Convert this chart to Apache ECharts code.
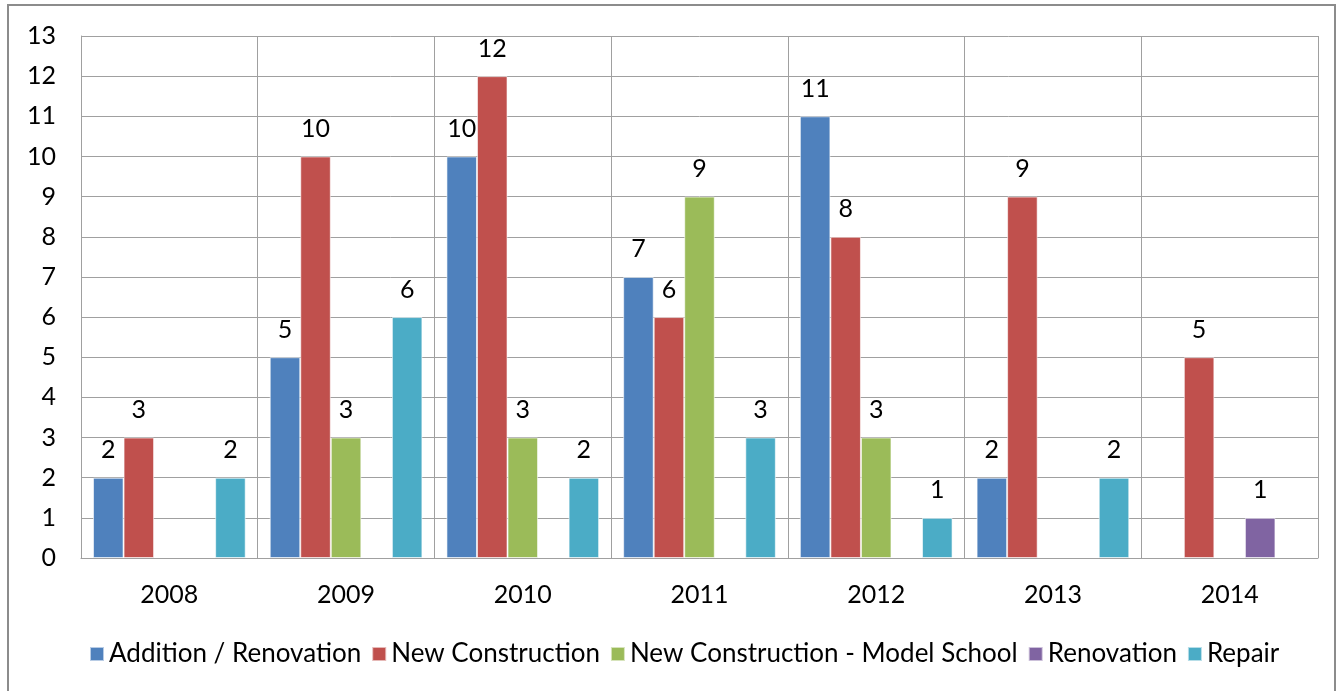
<!DOCTYPE html>
<html>
<head>
<meta charset="utf-8">
<script src="https://cdn.jsdelivr.net/npm/echarts@6/dist/echarts.min.js"></script>
<style>
  html, body { margin: 0; padding: 0; background: #fff; }
  #chart { width: 1338px; height: 691px; }
</style>
</head>
<body>
<div id="chart"></div>
<script>
// data
const years = ["2008", "2009", "2010", "2011", "2012", "2013", "2014"];
const additionRenovation = [2, 5, 10, 7, 11, 2, null];
const newConstruction = [3, 10, 12, 6, 8, 9, 5];
const modelSchool = [null, 3, 3, 9, 3, null, null];
const renovation = [null, null, null, null, null, null, 1];
const repair = [2, 6, 2, 3, 1, 2, null];

const seriesNames = [
  "Addition / Renovation",
  "New Construction",
  "New Construction - Model School",
  "Renovation",
  "Repair"
];
const seriesData = [additionRenovation, newConstruction, modelSchool, renovation, repair];
const colors = ["#4F81BD", "#C0504D", "#9BBB59", "#8064A2", "#4BACC6"];

const fontFamily = "Lato, 'Open Sans', sans-serif";

const myChart = echarts.init(document.getElementById("chart"), null, { renderer: "canvas" });

const option = {
  animation: false,
  color: colors,
  textStyle: { fontFamily: fontFamily },
  graphic: [
    {
      type: "rect",
      shape: { x: 8, y: 5, width: 1327, height: 690 },
      style: { fill: "none", stroke: "#8c8c8c", lineWidth: 2 },
      silent: true
    }
  ],
  grid: { left: 81, right: 20, top: 36, bottom: 133 },
  legend: {
    bottom: 19,
    left: 84,
    itemWidth: 14,
    itemHeight: 14,
    itemGap: 10,
    icon: "rect",
    textStyle: { fontSize: 26, color: "#000", fontFamily: fontFamily },
    data: seriesNames
  },
  xAxis: {
    type: "category",
    data: years,
    axisLine: { lineStyle: { color: "#a0a0a0", width: 1 } },
    axisTick: { show: false },
    axisLabel: { fontSize: 25, color: "#000", margin: 24 },
    splitLine: { show: true, lineStyle: { color: "#a0a0a0", width: 1 } }
  },
  yAxis: {
    type: "value",
    min: 0,
    max: 13,
    interval: 1,
    axisLine: { show: true, lineStyle: { color: "#a0a0a0", width: 1 } },
    axisTick: { show: false },
    axisLabel: { fontSize: 25, color: "#000", margin: 25 },
    splitLine: { show: true, lineStyle: { color: "#a0a0a0", width: 1 } }
  },
  series: seriesNames.map((name, i) => ({
    name: name,
    type: "bar",
    data: seriesData[i].map(v => (v === null ? "-" : v)),
    barGap: "0%",
    barCategoryGap: "13.6%",
    itemStyle: { color: colors[i], borderColor: "rgba(255,255,255,0.6)", borderWidth: 1 },
    label: {
      show: true,
      position: "top",
      distance: 15,
      fontSize: 25,
      color: "#000"
    }
  }))
};

myChart.setOption(option);
</script>
</body>
</html>
